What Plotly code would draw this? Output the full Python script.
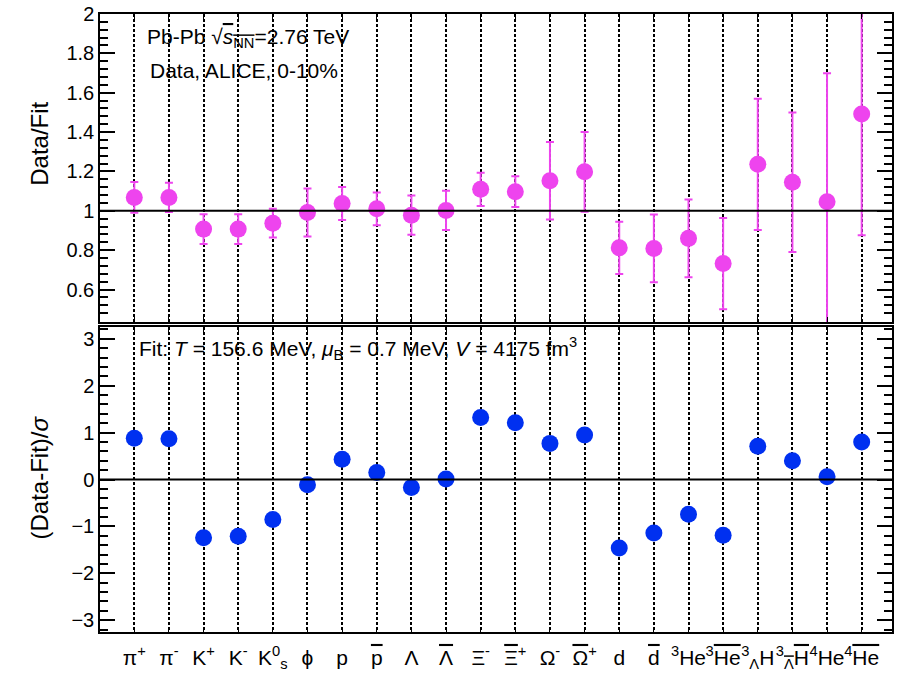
import plotly.graph_objects as go

# ---------------- data ----------------
OV = "<span style='text-decoration:overline'>{}</span>"
particles = [
    "π<sup>+</sup>", "π<sup>-</sup>", "K<sup>+</sup>", "K<sup>-</sup>",
    "K<sup>0</sup><sub>s</sub>", "ϕ", "p", OV.format("p"), "Λ", OV.format("Λ"),
    "Ξ<sup>-</sup>", OV.format("Ξ") + "<sup>+</sup>", "Ω<sup>-</sup>",
    OV.format("Ω") + "<sup>+</sup>",
    "d", OV.format("d"), "<sup>3</sup>He", "<sup>3</sup>" + OV.format("He"),
    "<sup>3</sup><sub>Λ</sub>H", "<sup>3</sup><sub>" + OV.format("Λ") + "</sub>" + OV.format("H"),
    "<sup>4</sup>He", "<sup>4</sup>" + OV.format("He"),
]
ratio = [1.068, 1.068, 0.907, 0.907, 0.937, 0.992, 1.037, 1.010, 0.978, 1.002,
         1.109, 1.097, 1.153, 1.198, 0.812, 0.809, 0.860, 0.732, 1.236, 1.145,
         1.046, 1.492]
ratio_err = [0.078, 0.074, 0.075, 0.075, 0.073, 0.122, 0.084, 0.083, 0.100, 0.100,
             0.084, 0.078, 0.197, 0.203, 0.133, 0.172, 0.197, 0.232, 0.333, 0.354,
             0.653, 0.616]
deviation = [0.88, 0.87, -1.24, -1.21, -0.85, -0.11, 0.43, 0.15, -0.17, 0.01,
             1.32, 1.21, 0.77, 0.95, -1.46, -1.14, -0.74, -1.19, 0.71, 0.40,
             0.06, 0.80]

top_ticks = [0.6, 0.8, 1.0, 1.2, 1.4, 1.6, 1.8, 2.0]
bot_ticks = [-3, -2, -1, 0, 1, 2, 3]

xpos = list(range(len(particles)))

FONT = "Liberation Sans, Arial, Helvetica, sans-serif"
MAG = "#ee44ee"
BLUE = "#0030f0"

fig = go.Figure()

fig.add_trace(go.Scatter(
    x=xpos, y=ratio, mode="markers",
    marker=dict(color=MAG, size=17),
    error_y=dict(type="data", array=ratio_err, visible=True, color=MAG,
                 thickness=2, width=4),
    xaxis="x", yaxis="y", showlegend=False,
))
fig.add_trace(go.Scatter(
    x=xpos, y=deviation, mode="markers",
    marker=dict(color=BLUE, size=17),
    xaxis="x2", yaxis="y2", showlegend=False,
))

xcommon = dict(
    range=[-0.99, 21.875], tickmode="array", tickvals=xpos,
    showgrid=True, gridcolor="black", gridwidth=1.5, griddash="3px,2px",
    showline=True, linecolor="black", linewidth=1.5, mirror="ticks",
    ticks="inside", ticklen=5, tickcolor="black", zeroline=False,
    automargin=False, tickangle=0,
)
ycommon = dict(
    showgrid=False, zeroline=False, automargin=False,
    showline=True, linecolor="black", linewidth=1.5, mirror="allticks",
    ticks="inside", ticklen=15, tickwidth=1.5, tickcolor="black",
    tickfont=dict(family=FONT, size=20, color="black"),
)

fig.update_layout(
    width=898, height=673,
    margin=dict(l=100, r=6, t=14, b=41),
    paper_bgcolor="white", plot_bgcolor="white",
    font=dict(family=FONT, color="black"),
    xaxis=dict(**xcommon, domain=[0, 1], anchor="y", showticklabels=False,
               ticktext=particles),
    xaxis2=dict(**xcommon, domain=[0, 1], anchor="y2", matches="x",
                ticktext=particles, showticklabels=True,
                tickfont=dict(family=FONT, size=21, color="black"),
                ticklabelstandoff=6),
    yaxis=dict(**ycommon, domain=[0.5016, 1.0], anchor="x",
               range=[0.435, 2.0], tickmode="array", tickvals=top_ticks,
               ticktext=["0.6", "0.8", "1", "1.2", "1.4", "1.6", "1.8", "2"],
               minor=dict(dtick=0.04, ticks="inside", ticklen=8,
                          tickcolor="black", tickwidth=1.5)),
    yaxis2=dict(**ycommon, domain=[0.0, 0.4935], anchor="x2",
                range=[-3.25, 3.25], tickmode="array", tickvals=bot_ticks,
                ticktext=["\u22123", "\u22122", "\u22121", "0", "1", "2", "3"],
                minor=dict(dtick=0.2, ticks="inside", ticklen=8,
                           tickcolor="black", tickwidth=1.5)),
)

# reference lines
fig.add_shape(type="line", xref="x domain", yref="y", x0=0, x1=1, y0=1, y1=1,
              line=dict(color="black", width=2))
fig.add_shape(type="line", xref="x2 domain", yref="y2", x0=0, x1=1, y0=0, y1=0,
              line=dict(color="black", width=2))

# axis titles
title_font = dict(family=FONT, size=24, color="black")
fig.add_annotation(xref="paper", yref="paper", x=-0.0758, y=0.79,
                   xanchor="center", yanchor="middle", showarrow=False,
                   textangle=-90, text="Data/Fit", font=title_font)
fig.add_annotation(xref="paper", yref="paper", x=-0.0758, y=0.25,
                   xanchor="center", yanchor="middle", showarrow=False,
                   textangle=-90, text="(Data-Fit)/<i>σ</i>", font=title_font)

ann_font = dict(family=FONT, size=21, color="black")
fig.add_annotation(xref="paper", yref="paper", x=0.0568, y=0.961,
                   xanchor="left", yanchor="middle", showarrow=False,
                   text="Pb-Pb √" + OV.format("<i>s</i><sub>NN</sub>") + "=2.76 TeV",
                   font=ann_font)
fig.add_annotation(xref="paper", yref="paper", x=0.0606, y=0.909,
                   xanchor="left", yanchor="middle", showarrow=False,
                   text="Data, ALICE, 0-10%", font=ann_font)
fig.add_annotation(xref="paper", yref="paper", x=0.0467, y=0.4595,
                   xanchor="left", yanchor="middle", showarrow=False,
                   text="Fit: <i>T</i> = 156.6 MeV, <i>μ</i><sub>B</sub> = 0.7 MeV, "
                        "<i>V</i> = 4175 fm<sup>3</sup>", font=ann_font)

fig.write_html("out.html")
